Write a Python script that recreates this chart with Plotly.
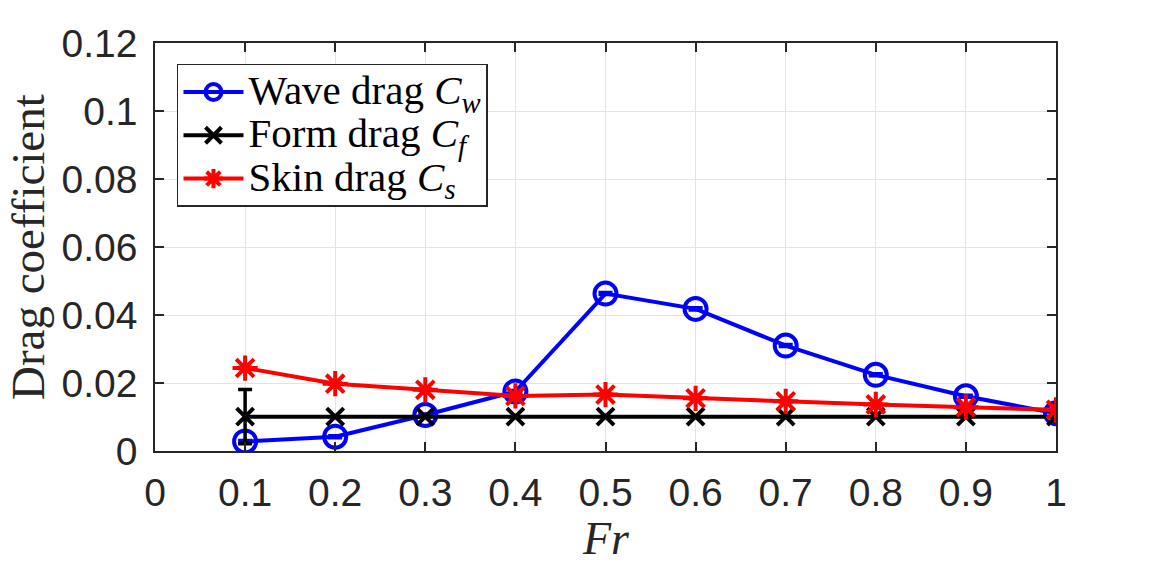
import plotly.graph_objects as go

fr = [0.1, 0.2, 0.3, 0.4, 0.5, 0.6, 0.7, 0.8, 0.9, 1.0]
wave = [0.0028, 0.0042, 0.0106, 0.0175, 0.0463, 0.0418, 0.0310, 0.0224, 0.0161, 0.0111]
wave_err = [0.0003, 0.0003, 0.0003, 0.0003, 0.0003, 0.0003, 0.0003, 0.0003, 0.0003, 0.0003]
form = [0.0101, 0.0101, 0.0101, 0.0101, 0.0101, 0.0101, 0.0101, 0.0101, 0.0101, 0.0101]
form_err = [0.0080, 0, 0, 0, 0, 0, 0, 0, 0, 0]
skin = [0.0244, 0.0198, 0.0180, 0.0162, 0.0166, 0.0155, 0.0146, 0.0137, 0.0129, 0.0121]
skin_err = [0.0002, 0.0002, 0.0002, 0.0002, 0.0002, 0.0002, 0.0002, 0.0002, 0.0002, 0.0002]

xticks = [0, 0.1, 0.2, 0.3, 0.4, 0.5, 0.6, 0.7, 0.8, 0.9, 1.0]
xticklabels = ["0", "0.1", "0.2", "0.3", "0.4", "0.5", "0.6", "0.7", "0.8", "0.9", "1"]
yticks = [0, 0.02, 0.04, 0.06, 0.08, 0.10, 0.12]
yticklabels = ["0", "0.02", "0.04", "0.06", "0.08", "0.1", "0.12"]

LW = 4


def leg(label, sub):
    return ('<span style="font-size:41px">' + label + ' <i>C</i><sub><i>' + sub + '</i></sub></span>')


fig = go.Figure()
fig.add_trace(go.Scatter(
    x=fr, y=wave, mode="lines+markers", name=leg("Wave drag", "w"),
    line=dict(color="#0000ff", width=LW),
    marker=dict(symbol="circle-open", size=22, color="#0000ff", line=dict(width=LW, color="#0000ff")),
    error_y=dict(type="data", array=wave_err, color="#0000ff", thickness=3.5, width=7),
))
fig.add_trace(go.Scatter(
    x=fr, y=form, mode="lines+markers", name=leg("Form drag", "f"),
    line=dict(color="#000000", width=LW),
    marker=dict(symbol="x-thin-open", size=17, color="#000000", line=dict(width=LW, color="#000000")),
    error_y=dict(type="data", array=form_err, color="#000000", thickness=3.5, width=7),
))
fig.add_trace(go.Scatter(
    x=fr, y=skin, mode="lines+markers", name=leg("Skin drag", "s"),
    line=dict(color="#ff0000", width=LW),
    marker=dict(symbol="asterisk-open", size=21, color="#ff0000", line=dict(width=LW, color="#ff0000")),
    error_y=dict(type="data", array=skin_err, color="#ff0000", thickness=3.5, width=7),
))

axis_common = dict(
    showline=True, linecolor="#262626", linewidth=1.5, mirror="ticks",
    ticks="inside", ticklen=9, tickwidth=1.5, tickcolor="#262626",
    showgrid=True, gridcolor="#e3e3e3", gridwidth=1, zeroline=False,
    tickfont=dict(family="Liberation Sans, Arial, sans-serif", size=39, color="#262626"),
)
fig.update_xaxes(range=[0, 1], tickvals=xticks, ticktext=xticklabels, ticklabelstandoff=6, **axis_common)
fig.update_yaxes(range=[0, 0.12], tickvals=yticks, ticktext=yticklabels, ticklabelstandoff=8, **axis_common)

fig.update_layout(
    width=1167, height=569,
    margin=dict(l=155, r=111, t=43, b=118),
    paper_bgcolor="white", plot_bgcolor="white",
    showlegend=True,
    legend=dict(
        x=0.0244, y=0.949, xanchor="left", yanchor="top",
        bgcolor="white", bordercolor="#262626", borderwidth=1.5,
        font=dict(family="Liberation Serif, Times New Roman, serif", size=31, color="#000000"),
        tracegroupgap=0, itemwidth=60,
    ),
    annotations=[
        dict(text="Drag coefficient", xref="paper", yref="paper",
             x=(28 - 155) / 901, y=0.5, xanchor="center", yanchor="middle",
             textangle=-90, showarrow=False,
             font=dict(family="Liberation Serif, Times New Roman, serif", size=47, color="#262626")),
        dict(text="<i>Fr</i>", xref="paper", yref="paper",
             x=(606 - 155) / 901, y=-(538 - 451) / 408, xanchor="center", yanchor="middle",
             showarrow=False,
             font=dict(family="Liberation Serif, Times New Roman, serif", size=46, color="#262626")),
    ],
)

fig.write_html("out.html")
